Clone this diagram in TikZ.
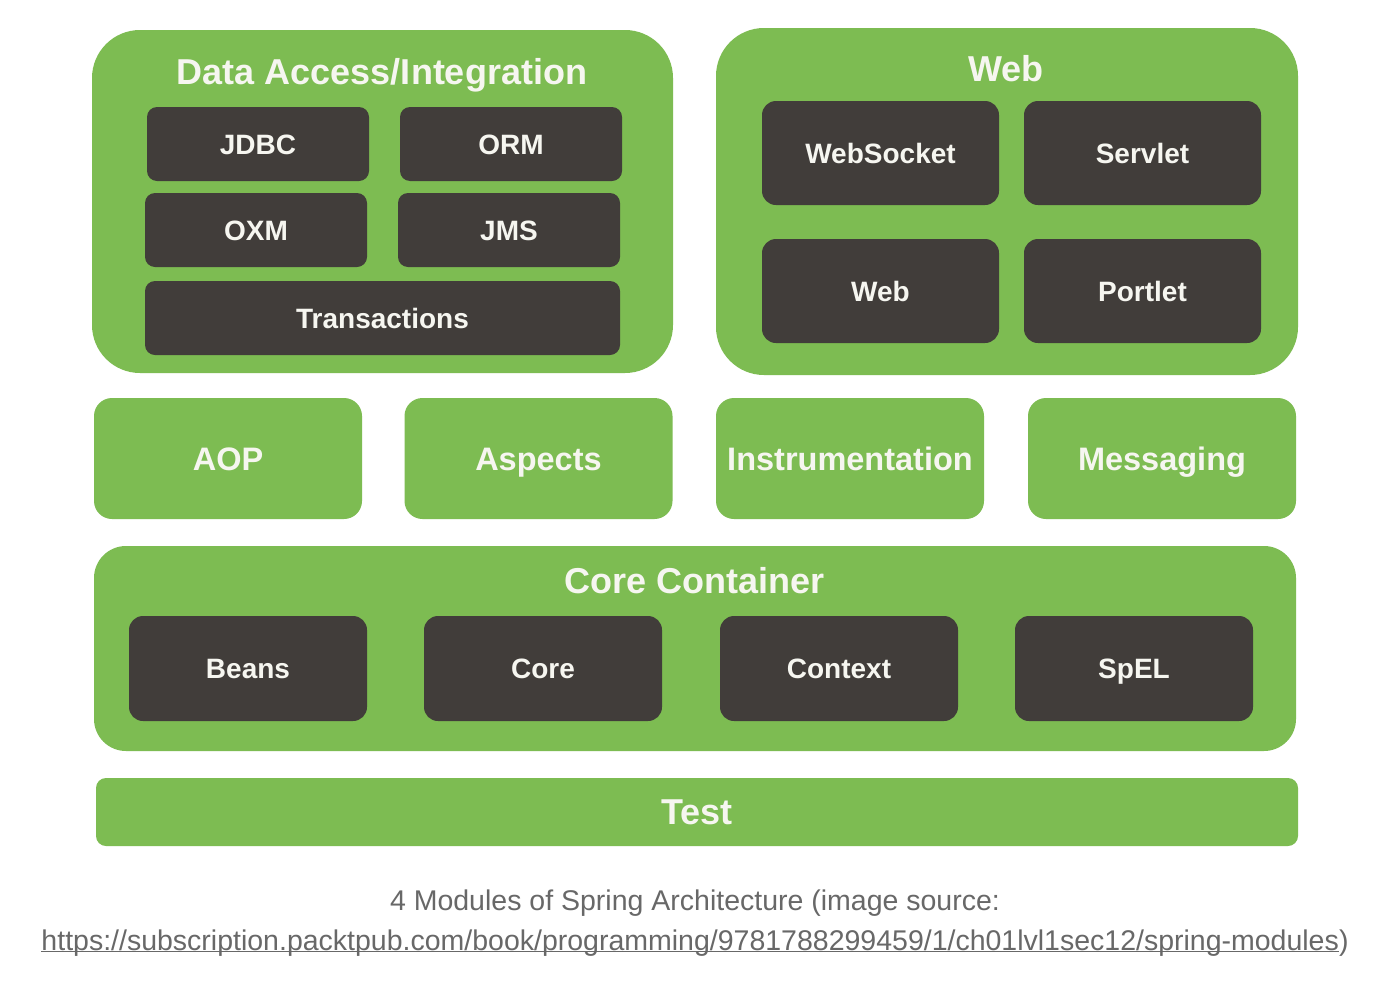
\documentclass[tikz,border=0pt]{standalone}
\usepackage{fontspec}
\setmainfont{Liberation Sans}
\definecolor{sgreen}{RGB}{125,188,82}
\definecolor{sdark}{RGB}{65,61,58}
\definecolor{stext}{RGB}{246,246,240}
\definecolor{scap}{RGB}{104,104,104}
\tikzset{
  capc/.style={text height=#1, text depth=0pt},
  outerbox/.style={fill=sgreen, draw=none, rounded corners=#1, inner sep=0pt},
  outerbox/.default=40pt,
  title/.style={text=stext, font=\fontsize{36}{42}\selectfont\bfseries, inner sep=0pt, capc=25.8pt},
  darkbox/.style={fill=sdark, draw=none, rounded corners=#1, text=stext,
     font=\fontsize{28}{32}\selectfont\bfseries, inner sep=0pt, capc=20pt},
  darkbox/.default=12pt,
  midbox/.style={fill=sgreen, draw=none, rounded corners=18pt, text=stext,
     font=\fontsize{32.5}{38}\selectfont\bfseries, inner sep=0pt, capc=23.3pt,
     minimum width=268pt, minimum height=121pt},
  captxt/.style={text=scap, font=\fontsize{28.5}{32}\selectfont, inner sep=0pt, capc=20.4pt}
}
\begin{document}
\begin{tikzpicture}[x=1pt,y=-1pt]
\useasboundingbox[fill=white] (0,0) rectangle (1392,988);

% Data Access / Integration
\node[outerbox=48pt, minimum width=581pt, minimum height=343pt] (da) at (382.5,201.5) {};
\node[title] (datitle) at (382,72) {Data Access/Integration};
\node[darkbox=10pt, minimum width=222pt, minimum height=74pt] (jdbc) at (258,144) {JDBC};
\node[darkbox=10pt, minimum width=222pt, minimum height=74pt] (orm) at (511,144) {ORM};
\node[darkbox=10pt, minimum width=222pt, minimum height=74pt] (oxm) at (256,230) {OXM};
\node[darkbox=10pt, minimum width=222pt, minimum height=74pt] (jms) at (509,230) {JMS};
\node[darkbox=10pt, minimum width=475pt, minimum height=74pt] (tx) at (382.5,318) {Transactions};

% Web
\node[outerbox=48pt, minimum width=582pt, minimum height=347pt] (web) at (1007,201.5) {};
\node[title] (webtitle) at (1006,69) {Web};
\node[darkbox=14pt, minimum width=237pt, minimum height=104pt] (ws) at (880.5,153) {WebSocket};
\node[darkbox=14pt, minimum width=237pt, minimum height=104pt] (servlet) at (1142.5,153) {Servlet};
\node[darkbox=14pt, minimum width=237pt, minimum height=104pt] (webm) at (880.5,291) {Web};
\node[darkbox=14pt, minimum width=237pt, minimum height=104pt] (portlet) at (1142.5,291) {Portlet};

% Middle row
\node[midbox] (aop) at (228,458.5) {AOP};
\node[midbox] (aspects) at (538.5,458.5) {Aspects};
\node[midbox] (instr) at (850,458.5) {Instrumentation};
\node[midbox] (msg) at (1162,458.5) {Messaging};

% Core Container
\node[outerbox=32pt, minimum width=1202pt, minimum height=205pt] (cc) at (695,648.5) {};
\node[title] (cctitle) at (695,581) {Core Container};
\node[darkbox=14pt, minimum width=238pt, minimum height=105pt] (beans) at (248,668.5) {Beans};
\node[darkbox=14pt, minimum width=238pt, minimum height=105pt] (core) at (543,668.5) {Core};
\node[darkbox=14pt, minimum width=238pt, minimum height=105pt] (ctx) at (839,668.5) {Context};
\node[darkbox=14pt, minimum width=238pt, minimum height=105pt] (spel) at (1134,668.5) {SpEL};

% Test
\node[outerbox=10pt, minimum width=1202pt, minimum height=68pt, text=stext, capc=25.8pt,
      font=\fontsize{36}{42}\selectfont\bfseries] (test) at (697,812) {Test};

% Caption
\node[captxt] (cap1) at (695,900) {4 Modules of Spring Architecture (image source:};
\node[captxt] (cap2) at (695,940) {\underline{\smash{https://subscription.packtpub.com/book/programming/9781788299459/1/ch01lvl1sec12/spring-modules}})};
\end{tikzpicture}
\end{document}
